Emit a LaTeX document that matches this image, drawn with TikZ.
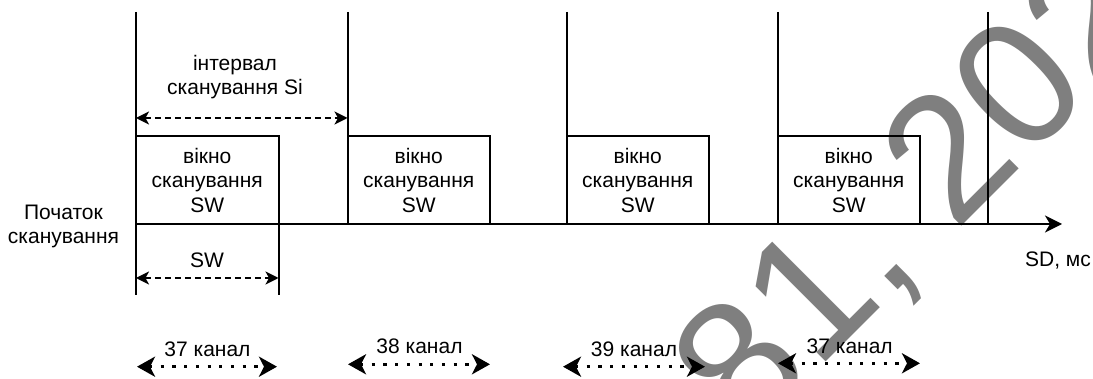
\documentclass[tikz,border=0pt]{standalone}
\usepackage{fontspec}
\setmainfont{Liberation Sans}
\usetikzlibrary{arrows.meta}

\begin{document}
\begin{tikzpicture}[x=1pt,y=-1pt,
  every node/.style={inner sep=0pt, align=center, font=\fontsize{21}{24.5}\selectfont},
  rule/.style={line width=2pt},
  winbox/.style={draw, line width=2pt, minimum width=142.5pt, minimum height=88pt},
  timeaxis/.style={line width=2pt, -{Stealth[length=17pt,width=17pt,inset=5pt]}},
  span/.style={line width=1.8pt, dash pattern=on 6pt off 4pt,
    {Stealth[length=13pt,width=13pt,inset=3.5pt]}-{Stealth[length=13pt,width=13pt,inset=3.5pt]}},
  chan/.style={line width=3.2pt, dash pattern=on 3.2pt off 8.5pt,
    {Stealth[length=18pt,width=20pt,inset=5pt]}-{Stealth[length=18pt,width=20pt,inset=5pt]}},
  stamp/.style={font=\fontsize{178}{178}\selectfont, text=black, text opacity=0.5}
]
\useasboundingbox (0,0) rectangle (1093,379);

% scan interval boundaries
\coordinate (t1) at (136,12);   \coordinate (b1) at (136,295);
\coordinate (t2) at (347.5,12); \coordinate (b2) at (347.5,224);
\coordinate (t3) at (566.5,12); \coordinate (b3) at (566.5,224);
\coordinate (t4) at (777.5,12); \coordinate (b4) at (777.5,224);
\coordinate (t5) at (988,12);   \coordinate (b5) at (988,224);
\coordinate (sw0) at (278.5,136); \coordinate (sw1) at (278.5,295);

\draw[rule] (t1) -- (b1);
\draw[rule] (t2) -- (b2);
\draw[rule] (t3) -- (b3);
\draw[rule] (t4) -- (b4);
\draw[rule] (t5) -- (b5);
\draw[rule] (sw0) -- (sw1);

% scan windows
\node[winbox] (w1) at (207.25,180) {вікно\\сканування\\SW};
\node[winbox] (w2) at (418.75,180) {вікно\\сканування\\SW};
\node[winbox] (w3) at (637.75,180) {вікно\\сканування\\SW};
\node[winbox] (w4) at (848.75,180) {вікно\\сканування\\SW};

% time axis
\coordinate (a0) at (136,224);
\coordinate (a1) at (1062,224);
\draw[timeaxis] (a0) -- (a1);
\node[anchor=base] (sd) at (1058,267) {SD, мс};

\node (start) at (63.5,226.5) {Початок\\сканування};

% interval and window spans
\coordinate (i0) at (136,118);
\coordinate (i1) at (347.5,118);
\draw[span] (i0) -- (i1);
\node (si) at (235,77.3) {інтервал\\сканування Si};

\coordinate (s0) at (136,278);
\coordinate (s1) at (278.5,278);
\draw[span] (s0) -- (s1);
\node[anchor=base] (swl) at (207,268) {SW};

% advertising channels
\coordinate (c1a) at (137,366.7); \coordinate (c1b) at (277,366.7);
\coordinate (c2a) at (348,364.3); \coordinate (c2b) at (490,364.3);
\coordinate (c3a) at (563,366.7); \coordinate (c3b) at (705,366.7);
\coordinate (c4a) at (778,363.3); \coordinate (c4b) at (920,363.3);
\draw[chan] (c1a) -- (c1b);
\draw[chan] (c2a) -- (c2b);
\draw[chan] (c3a) -- (c3b);
\draw[chan] (c4a) -- (c4b);
\node[anchor=base] (ch1) at (207.5,356.5) {37 канал};
\node[anchor=base] (ch2) at (419.5,353.5) {38 канал};
\node[anchor=base] (ch3) at (634,356.5) {39 канал};
\node[anchor=base] (ch4) at (849.7,353.3) {37 канал};

% overlaid stamp
\begin{scope}
\clip (0,0) rectangle (1093,379);
\node[stamp, rotate=45, anchor=base west] (mark) at (746,442) {81, 202};
\end{scope}
\end{tikzpicture}
\end{document}
